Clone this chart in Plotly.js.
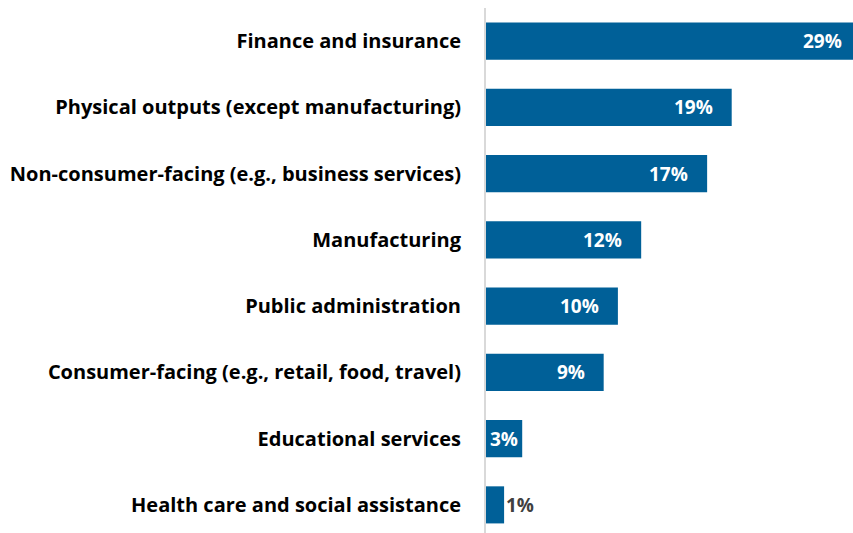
<!DOCTYPE html>
<html>
<head>
<meta charset="utf-8">
<script src="https://cdn.plot.ly/plotly-3.0.1.min.js"></script>
<style>
html,body{margin:0;padding:0;overflow:hidden;background:#fff;}
#chart{width:872px;height:540px;}
</style>
</head>
<body>
<div id="chart"></div>
<script>
const categories = [
  "Finance and insurance",
  "Physical outputs (except manufacturing)",
  "Non-consumer-facing (e.g., business services)",
  "Manufacturing",
  "Public administration",
  "Consumer-facing (e.g., retail, food, travel)",
  "Educational services",
  "Health care and social assistance"
];
const values = [29, 19, 17.1, 12, 10.2, 9.1, 2.8, 1.4];
const valueLabels = ["29%", "19%", "17%", "12%", "10%", "9%", "3%", "1%"];

const barColor = "#006098";
const fontFam = "'Open Sans', Lato, sans-serif";

const annotations = values.map((v, i) => {
  const outside = v < 2;
  const small = v < 5;
  return {
    x: v, y: categories[i], xref: "x", yref: "y",
    text: valueLabels[i], showarrow: false,
    xanchor: outside ? "left" : "right",
    xshift: outside ? 0 : (small ? -2 : -17),
    font: {family: fontFam, size: 19, color: outside ? "#404040" : "#ffffff", weight: "bold"}
  };
});

const trace = {
  type: "bar",
  orientation: "h",
  x: values,
  y: categories,
  marker: {color: barColor},
  hoverinfo: "skip",
  textposition: "none"
};

const layout = {
  width: 872, height: 540,
  margin: {l: 486, r: 0, t: 8, b: 2, pad: 0},
  paper_bgcolor: "#ffffff", plot_bgcolor: "#ffffff",
  bargap: 0.44,
  showlegend: false,
  font: {family: fontFam, color: "#000000"},
  xaxis: {
    range: [0, 29.85], showgrid: false, zeroline: false,
    showticklabels: false, showline: false, ticks: "", fixedrange: true
  },
  yaxis: {
    autorange: "reversed", showgrid: false, zeroline: false,
    showline: true, linecolor: "#d9d9d9", linewidth: 2,
    ticks: "outside", ticklen: 19, tickcolor: "rgba(0,0,0,0)",
    tickfont: {family: fontFam, size: 20, color: "#000000", weight: "bold"},
    automargin: false
  },
  annotations: annotations
};

Plotly.newPlot("chart", [trace], layout, {displayModeBar: false, staticPlot: true});
</script>
</body>
</html>
